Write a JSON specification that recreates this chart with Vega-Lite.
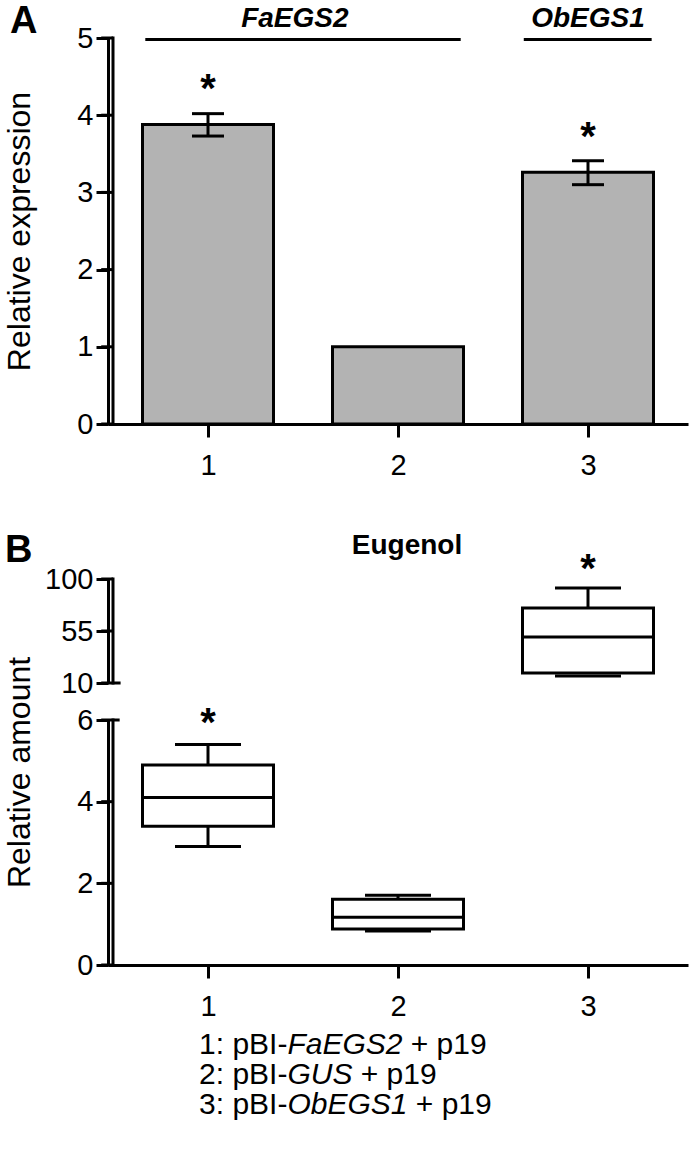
{
  "$schema": "https://vega.github.io/schema/vega-lite/v6.json",
  "padding": {"left": 3, "top": 3, "right": 5, "bottom": 5},
  "background": "white",
  "bounds": "flush",
  "spacing": 37,
  "config": {
    "font": "Liberation Sans",
    "view": {"stroke": null},
    "axis": {
      "grid": false,
      "domainColor": "black",
      "domainWidth": 3,
      "tickColor": "black",
      "tickWidth": 3,
      "tickSize": 12,
      "labelFontSize": 29,
      "labelColor": "black",
      "labelPadding": 3,
      "titleFontSize": 32,
      "titleFontWeight": "normal",
      "titleColor": "black"
    }
  },
  "vconcat": [
    {
      "width": 580,
      "height": 386,
      "layer": [
        {
          "data": {"values": [
            {"construct": 1, "expression": 3.88, "lo": 3.73, "hi": 4.02},
            {"construct": 2, "expression": 1.0, "lo": 1.0, "hi": 1.0},
            {"construct": 3, "expression": 3.26, "lo": 3.10, "hi": 3.41}
          ]},
          "layer": [
            {
              "mark": {"type": "bar", "size": 131, "fill": "#b3b3b3", "stroke": "black", "strokeWidth": 3},
              "encoding": {
                "x": {"field": "construct", "type": "quantitative",
                      "scale": {"domain": [0.5, 3.5], "nice": false, "zero": false},
                      "axis": {"values": [1, 2, 3], "title": null, "tickSize": 13, "labelPadding": 14, "format": "d"}},
                "y": {"field": "expression", "type": "quantitative",
                      "scale": {"domain": [0, 5], "nice": false},
                      "axis": {"values": [0, 1, 2, 3, 4, 5], "format": "d", "title": "Relative expression", "titlePadding": 40}}
              }
            },
            {
              "transform": [{"filter": "datum.hi > datum.lo"}],
              "mark": {"type": "rule", "strokeWidth": 3, "color": "black"},
              "encoding": {
                "x": {"field": "construct", "type": "quantitative"},
                "y": {"field": "lo", "type": "quantitative"},
                "y2": {"field": "hi"}
              }
            },
            {
              "transform": [{"filter": "datum.hi > datum.lo"}, {"fold": ["lo", "hi"], "as": ["end", "value"]}],
              "mark": {"type": "tick", "orient": "horizontal", "size": 32, "thickness": 3, "color": "black", "opacity": 1},
              "encoding": {
                "x": {"field": "construct", "type": "quantitative"},
                "y": {"field": "value", "type": "quantitative"}
              }
            }
          ]
        },
        {
          "data": {"values": [{"from": 0, "to": 5}]},
          "mark": {"type": "rule", "strokeWidth": 3, "color": "black", "strokeCap": "square"},
          "encoding": {
            "x": {"datum": 0.5, "type": "quantitative"},
            "y": {"field": "from", "type": "quantitative"},
            "y2": {"field": "to"}
          }
        },
        {
          "data": {"values": [{"tick": 0}, {"tick": 1}, {"tick": 2}, {"tick": 3}, {"tick": 4}, {"tick": 5}]},
          "mark": {"type": "rule", "strokeWidth": 3, "color": "black"},
          "encoding": {
            "x": {"datum": 0.438, "type": "quantitative"},
            "x2": {"datum": 0.5},
            "y": {"field": "tick", "type": "quantitative"}
          }
        },
        {
          "data": {"values": [{"construct": 1, "star": 4.44}, {"construct": 3, "star": 3.82}]},
          "mark": {"type": "text", "text": "*", "fontSize": 40, "fontWeight": "bold", "baseline": "middle", "dy": 9, "color": "black"},
          "encoding": {
            "x": {"field": "construct", "type": "quantitative"},
            "y": {"field": "star", "type": "quantitative"}
          }
        },
        {
          "data": {"values": [
            {"gene": "FaEGS2", "from": 0.67, "to": 2.33, "mid": 1.457},
            {"gene": "ObEGS1", "from": 2.662, "to": 3.335, "mid": 3.0}
          ]},
          "layer": [
            {
              "mark": {"type": "rule", "strokeWidth": 3, "color": "black"},
              "encoding": {
                "x": {"field": "from", "type": "quantitative"},
                "x2": {"field": "to"},
                "y": {"datum": 4.98, "type": "quantitative"}
              }
            },
            {
              "mark": {"type": "text", "fontSize": 28, "fontWeight": "bold", "fontStyle": "italic", "baseline": "alphabetic", "align": "center", "color": "black"},
              "encoding": {
                "x": {"field": "mid", "type": "quantitative"},
                "y": {"datum": 5.14, "type": "quantitative"},
                "text": {"field": "gene"}
              }
            }
          ]
        },
        {
          "data": {"values": [{"panel": "A"}]},
          "mark": {"type": "text", "fontSize": 38, "fontWeight": "bold", "baseline": "alphabetic", "align": "center", "color": "black"},
          "encoding": {
            "x": {"datum": 0.03, "type": "quantitative"},
            "y": {"datum": 5.06, "type": "quantitative"},
            "text": {"field": "panel"}
          }
        }
      ]
    },
    {
      "width": 580,
      "height": 81,
      "data": {"values": []},
      "mark": "point"
    },
    {
      "width": 580,
      "height": 104,
      "title": {"text": "Eugenol", "fontSize": 28, "fontWeight": "bold", "color": "black", "offset": 2, "dx": 9, "dy": 30},
      "data": {"values": [
        {"construct": 3, "lower": 16.1, "q1": 18.7, "median": 49.8, "q3": 74.9, "upper": 92.2}
      ]},
      "layer": [
        {
          "mark": {"type": "bar", "size": 131, "fill": "white", "stroke": "black", "strokeWidth": 3},
          "encoding": {
            "x": {"field": "construct", "type": "quantitative",
                  "scale": {"domain": [0.5, 3.5], "nice": false, "zero": false}, "axis": null},
            "y": {"field": "q1", "type": "quantitative",
                  "scale": {"domain": [10, 100], "nice": false, "zero": false},
                  "axis": {"values": [10, 55, 100], "title": null}},
            "y2": {"field": "q3"}
          }
        },
        {
          "mark": {"type": "rule", "strokeWidth": 3, "color": "black"},
          "encoding": {
            "x": {"field": "construct", "type": "quantitative"},
            "y": {"field": "q3", "type": "quantitative"},
            "y2": {"field": "upper"}
          }
        },
        {
          "transform": [{"fold": ["lower", "upper"], "as": ["end", "value"]}],
          "mark": {"type": "tick", "orient": "horizontal", "size": 66, "thickness": 3, "color": "black", "opacity": 1},
          "encoding": {
            "x": {"field": "construct", "type": "quantitative"},
            "y": {"field": "value", "type": "quantitative"}
          }
        },
        {
          "mark": {"type": "tick", "orient": "horizontal", "size": 131, "thickness": 3, "color": "black", "opacity": 1},
          "encoding": {
            "x": {"field": "construct", "type": "quantitative"},
            "y": {"field": "median", "type": "quantitative"}
          }
        },
        {
          "data": {"values": [{"construct": 3, "star": 116}]},
          "mark": {"type": "text", "text": "*", "fontSize": 40, "fontWeight": "bold", "baseline": "middle", "dy": 9, "color": "black"},
          "encoding": {
            "x": {"field": "construct", "type": "quantitative"},
            "y": {"field": "star", "type": "quantitative"}
          }
        },
        {
          "data": {"values": [{"from": 10, "to": 100}]},
          "mark": {"type": "rule", "strokeWidth": 3, "color": "black", "strokeCap": "square"},
          "encoding": {
            "x": {"datum": 0.5, "type": "quantitative"},
            "y": {"field": "from", "type": "quantitative"},
            "y2": {"field": "to"}
          }
        },
        {
          "data": {"values": [{"tick": 10}, {"tick": 55}, {"tick": 100}]},
          "mark": {"type": "rule", "strokeWidth": 3, "color": "black"},
          "encoding": {
            "x": {"datum": 0.438, "type": "quantitative"},
            "x2": {"datum": 0.5},
            "y": {"field": "tick", "type": "quantitative"}
          }
        },
        {
          "data": {"values": [{"edge": 10}]},
          "mark": {"type": "rule", "strokeWidth": 3, "color": "black"},
          "encoding": {
            "x": {"datum": 0.5, "type": "quantitative"},
            "x2": {"datum": 0.54},
            "y": {"field": "edge", "type": "quantitative"}
          }
        },
        {
          "data": {"values": [{"panel": "B"}]},
          "mark": {"type": "text", "fontSize": 38, "fontWeight": "bold", "baseline": "alphabetic", "align": "center", "color": "black"},
          "encoding": {
            "x": {"datum": 0.004, "type": "quantitative"},
            "y": {"datum": 114.7, "type": "quantitative"},
            "text": {"field": "panel"}
          }
        }
      ]
    },
    {
      "width": 580,
      "height": 245,
      "data": {"values": [
        {"construct": 1, "lower": 2.9, "q1": 3.4, "median": 4.1, "q3": 4.9, "upper": 5.4},
        {"construct": 2, "lower": 0.83, "q1": 0.88, "median": 1.17, "q3": 1.61, "upper": 1.71}
      ]},
      "layer": [
        {
          "mark": {"type": "bar", "size": 131, "fill": "white", "stroke": "black", "strokeWidth": 3},
          "encoding": {
            "x": {"field": "construct", "type": "quantitative",
                  "scale": {"domain": [0.5, 3.5], "nice": false, "zero": false},
                  "axis": {"values": [1, 2, 3], "title": null, "tickSize": 13, "labelPadding": 14, "format": "d"}},
            "y": {"field": "q1", "type": "quantitative",
                  "scale": {"domain": [0, 6], "nice": false},
                  "axis": {"values": [0, 2, 4, 6], "format": "d", "title": "Relative amount", "titlePadding": 40, "titleY": 52}},
            "y2": {"field": "q3"}
          }
        },
        {
          "mark": {"type": "rule", "strokeWidth": 3, "color": "black"},
          "encoding": {
            "x": {"field": "construct", "type": "quantitative"},
            "y": {"field": "lower", "type": "quantitative"},
            "y2": {"field": "q1"}
          }
        },
        {
          "mark": {"type": "rule", "strokeWidth": 3, "color": "black"},
          "encoding": {
            "x": {"field": "construct", "type": "quantitative"},
            "y": {"field": "q3", "type": "quantitative"},
            "y2": {"field": "upper"}
          }
        },
        {
          "transform": [{"fold": ["lower", "upper"], "as": ["end", "value"]}],
          "mark": {"type": "tick", "orient": "horizontal", "size": 66, "thickness": 3, "color": "black", "opacity": 1},
          "encoding": {
            "x": {"field": "construct", "type": "quantitative"},
            "y": {"field": "value", "type": "quantitative"}
          }
        },
        {
          "mark": {"type": "tick", "orient": "horizontal", "size": 131, "thickness": 3, "color": "black", "opacity": 1},
          "encoding": {
            "x": {"field": "construct", "type": "quantitative"},
            "y": {"field": "median", "type": "quantitative"}
          }
        },
        {
          "data": {"values": [{"construct": 1, "star": 6.12}]},
          "mark": {"type": "text", "text": "*", "fontSize": 40, "fontWeight": "bold", "baseline": "middle", "dy": 9, "color": "black"},
          "encoding": {
            "x": {"field": "construct", "type": "quantitative"},
            "y": {"field": "star", "type": "quantitative"}
          }
        },
        {
          "data": {"values": [{"from": 0, "to": 6}]},
          "mark": {"type": "rule", "strokeWidth": 3, "color": "black", "strokeCap": "square"},
          "encoding": {
            "x": {"datum": 0.5, "type": "quantitative"},
            "y": {"field": "from", "type": "quantitative"},
            "y2": {"field": "to"}
          }
        },
        {
          "data": {"values": [{"tick": 0}, {"tick": 2}, {"tick": 4}, {"tick": 6}]},
          "mark": {"type": "rule", "strokeWidth": 3, "color": "black"},
          "encoding": {
            "x": {"datum": 0.438, "type": "quantitative"},
            "x2": {"datum": 0.5},
            "y": {"field": "tick", "type": "quantitative"}
          }
        },
        {
          "data": {"values": [{"edge": 6}]},
          "mark": {"type": "rule", "strokeWidth": 3, "color": "black"},
          "encoding": {
            "x": {"datum": 0.5, "type": "quantitative"},
            "x2": {"datum": 0.535},
            "y": {"field": "edge", "type": "quantitative"}
          }
        }
      ]
    },
    {
      "width": 580,
      "height": 146,
      "data": {"values": [
        {"line": "1", "prefix": "1: pBI-", "gene": "FaEGS2", "suffix": "+ p19", "start": 0.971, "geneAt": 1.428, "suffixAt": 2.066},
        {"line": "2", "prefix": "2: pBI-", "gene": "GUS", "suffix": "+ p19", "start": 0.971, "geneAt": 1.428, "suffixAt": 1.807},
        {"line": "3", "prefix": "3: pBI-", "gene": "ObEGS1", "suffix": "+ p19", "start": 0.971, "geneAt": 1.428, "suffixAt": 2.092}
      ]},
      "encoding": {
        "y": {"field": "line", "type": "ordinal", "scale": {"type": "point", "range": [43, 103], "padding": 0}, "axis": null}
      },
      "layer": [
        {
          "mark": {"type": "text", "fontSize": 30, "align": "left", "baseline": "middle", "color": "black"},
          "encoding": {
            "x": {"field": "start", "type": "quantitative", "scale": {"domain": [0.5, 3.5], "nice": false, "zero": false}, "axis": null},
            "text": {"field": "prefix"}
          }
        },
        {
          "mark": {"type": "text", "fontSize": 30, "fontStyle": "italic", "align": "left", "baseline": "middle", "color": "black"},
          "encoding": {"x": {"field": "geneAt", "type": "quantitative"}, "text": {"field": "gene"}}
        },
        {
          "mark": {"type": "text", "fontSize": 30, "align": "left", "baseline": "middle", "color": "black"},
          "encoding": {"x": {"field": "suffixAt", "type": "quantitative"}, "text": {"field": "suffix"}}
        }
      ]
    }
  ]
}
